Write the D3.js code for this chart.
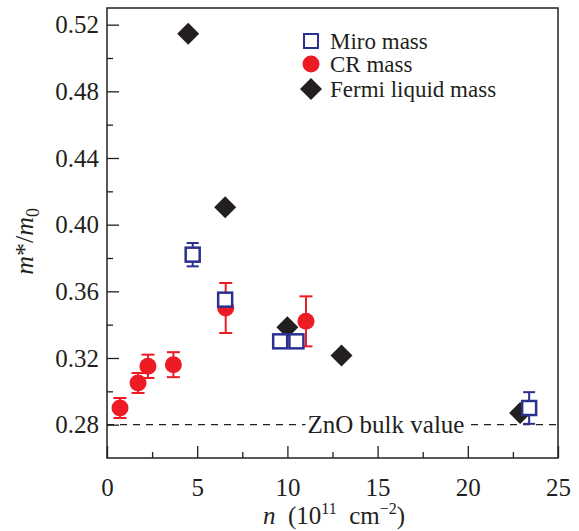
<!DOCTYPE html>
<html>
<head>
<meta charset="utf-8">
<script src="https://cdn.jsdelivr.net/npm/d3@7.9.0/dist/d3.min.js"></script>
<style>
  body { margin: 0; background: #fff; }
  svg text { font-family: 'Liberation Serif', 'Times New Roman', serif; }
</style>
</head>
<body>
<div id="chart"></div>
<script>
// Miro mass (open blue squares)
const miroN = [4.75, 6.55, 9.6, 10.5, 23.4];
const miroMass = [0.382, 0.355, 0.330, 0.330, 0.290];
const miroErr = [0.007, 0.003, 0, 0, 0.0095];

// CR mass (red circles)
const crN = [0.72, 1.72, 2.27, 3.68, 6.58, 11.03];
const crMass = [0.290, 0.305, 0.315, 0.316, 0.350, 0.342];
const crErr = [0.006, 0.006, 0.007, 0.0075, 0.015, 0.015];

// Fermi liquid mass (black diamonds)
const flN = [4.5, 6.55, 10.0, 13.0, 22.9];
const flMass = [0.5145, 0.4105, 0.3385, 0.3215, 0.287];

const bulkValue = 0.28;
const xTicks = [0, 5, 10, 15, 20, 25];
const yTicks = [0.28, 0.32, 0.36, 0.40, 0.44, 0.48, 0.52];

const width = 579;
const height = 531;
const margin = { top: 8, right: 21, bottom: 73, left: 107 };

const svg = d3
  .select('#chart')
  .append('svg')
  .attr('width', width)
  .attr('height', height);

const xScale = d3
  .scaleLinear()
  .domain([0, 25])
  .range([margin.left, width - margin.right]);

const yScale = d3
  .scaleLinear()
  .domain([0.26, 0.53])
  .range([height - margin.bottom, margin.top]);

const plotW = width - margin.left - margin.right;
const plotH = height - margin.top - margin.bottom;

const isMajorY = (d) => yTicks.some((t) => Math.abs(t - d) < 1e-9);

// axes (ticks pointing inward)
const xAxis = d3.axisBottom(xScale)
  .tickValues(d3.range(0, 25.1, 2.5))
  .tickSizeInner(-6)
  .tickSizeOuter(0)
  .tickPadding(20)
  .tickFormat((d) => (xTicks.includes(d) ? d : ''));

const yAxis = d3.axisLeft(yScale)
  .tickValues(d3.range(0.28, 0.5201, 0.02).map((d) => +d.toFixed(2)))
  .tickSizeInner(-6)
  .tickSizeOuter(0)
  .tickPadding(8)
  .tickFormat((d) => (isMajorY(d) ? d.toFixed(2) : ''));

const gx = svg.append('g')
  .attr('transform', `translate(0, ${height - margin.bottom})`)
  .call(xAxis);

const gy = svg.append('g')
  .attr('transform', `translate(${margin.left},0)`)
  .call(yAxis);

[gx, gy].forEach((g) => {
  g.attr('font-family', null);
  g.select('.domain').remove();
  g.selectAll('text').attr('font-size', 25).attr('fill', '#231f20');
  g.selectAll('line').attr('stroke', '#231f20').attr('stroke-width', 1.3);
});
// major ticks longer
gx.selectAll('.tick').filter((d) => xTicks.includes(d)).select('line').attr('y2', -12);
gy.selectAll('.tick').filter(isMajorY).select('line').attr('x2', 12);

// frame
svg.append('rect')
  .attr('x', margin.left)
  .attr('y', margin.top)
  .attr('width', plotW)
  .attr('height', plotH)
  .attr('fill', 'none')
  .attr('stroke', '#231f20')
  .attr('stroke-width', 1.5);

// ZnO bulk value dashed line
svg.append('line')
  .attr('x1', margin.left)
  .attr('x2', width - margin.right)
  .attr('y1', yScale(bulkValue))
  .attr('y2', yScale(bulkValue))
  .attr('stroke', '#231f20')
  .attr('stroke-width', 1.2)
  .attr('stroke-dasharray', '7,6');

const bulkBg = svg.append('rect').attr('fill', '#fff');
const bulkLabel = svg.append('text')
  .attr('x', 386)
  .attr('y', yScale(bulkValue) + 8)
  .attr('text-anchor', 'middle')
  .attr('font-size', 25)
  .attr('fill', '#231f20')
  .text('ZnO bulk value');
const bb = bulkLabel.node().getBBox();
bulkBg
  .attr('x', bb.x - 2)
  .attr('y', bb.y + 4)
  .attr('width', bb.width + 4)
  .attr('height', bb.height - 8);

const blue = '#2b3191';
const red = '#ed1c24';
const black = '#231f20';

function errorBars(g, xs, ys, es, color, cap) {
  xs.forEach((x, i) => {
    if (!es[i]) return;
    const cx = xScale(x);
    const y0 = yScale(ys[i] - es[i]);
    const y1 = yScale(ys[i] + es[i]);
    g.append('line').attr('x1', cx).attr('x2', cx).attr('y1', y0).attr('y2', y1)
      .attr('stroke', color).attr('stroke-width', 2);
    [y0, y1].forEach((yy) => {
      g.append('line').attr('x1', cx - cap).attr('x2', cx + cap).attr('y1', yy).attr('y2', yy)
        .attr('stroke', color).attr('stroke-width', 2);
    });
  });
}

// CR mass
const crG = svg.append('g');
errorBars(crG, crN, crMass, crErr, red, 6.5);
crG.selectAll('circle')
  .data(crN.map((n, i) => ({ n, m: crMass[i] })))
  .join('circle')
  .attr('cx', (d) => xScale(d.n))
  .attr('cy', (d) => yScale(d.m))
  .attr('r', 8.5)
  .attr('fill', red);

// Fermi liquid mass
const diamond = (s) => `M0,${-s}L${s},0L0,${s}L${-s},0Z`;
svg.append('g')
  .selectAll('path')
  .data(flN.map((n, i) => ({ n, m: flMass[i] })))
  .join('path')
  .attr('transform', (d) => `translate(${xScale(d.n)},${yScale(d.m)})`)
  .attr('d', diamond(11))
  .attr('fill', black);

// Miro mass
const miroG = svg.append('g');
errorBars(miroG, miroN, miroMass, miroErr, blue, 6);
miroG.selectAll('rect')
  .data(miroN.map((n, i) => ({ n, m: miroMass[i] })))
  .join('rect')
  .attr('x', (d) => xScale(d.n) - 7)
  .attr('y', (d) => yScale(d.m) - 7)
  .attr('width', 14)
  .attr('height', 14)
  .attr('fill', '#fff')
  .attr('stroke', blue)
  .attr('stroke-width', 2.5);

// legend
const legend = svg.append('g').attr('font-size', 23).attr('fill', black);
const legendItems = ['Miro mass', 'CR mass', 'Fermi liquid mass'];
const ly = [41, 64, 89];
legend.append('rect').attr('x', 304).attr('y', ly[0] - 7).attr('width', 14).attr('height', 14)
  .attr('fill', '#fff').attr('stroke', blue).attr('stroke-width', 2);
legend.append('circle').attr('cx', 311).attr('cy', ly[1]).attr('r', 8.5).attr('fill', red);
legend.append('path').attr('transform', `translate(311,${ly[2]})`).attr('d', diamond(11)).attr('fill', black);
legendItems.forEach((t, i) => {
  legend.append('text').attr('x', 330).attr('y', ly[i] + 8).text(t);
});

// axis titles
const yTitle = svg.append('text')
  .attr('transform', `translate(33, ${yScale(0.39)}) rotate(-90)`)
  .attr('text-anchor', 'middle')
  .attr('font-size', 26)
  .attr('fill', black);
yTitle.append('tspan').attr('font-style', 'italic').text('m');
yTitle.append('tspan').text('*/');
yTitle.append('tspan').attr('font-style', 'italic').text('m');
yTitle.append('tspan').attr('font-size', 18).attr('dy', 6).text('0');

const xTitle = svg.append('text')
  .attr('x', 334)
  .attr('y', 524)
  .attr('text-anchor', 'middle')
  .attr('font-size', 25)
  .attr('fill', black);
xTitle.append('tspan').attr('font-style', 'italic').text('n');
xTitle.append('tspan').text('\u2002(10');
xTitle.append('tspan').attr('font-size', 16).attr('dy', -10).text('11');
xTitle.append('tspan').attr('dy', 10).text('\u2002cm');
xTitle.append('tspan').attr('font-size', 16).attr('dy', -10).text('\u22122');
xTitle.append('tspan').attr('dy', 10).text(')');
</script>
</body>
</html>
